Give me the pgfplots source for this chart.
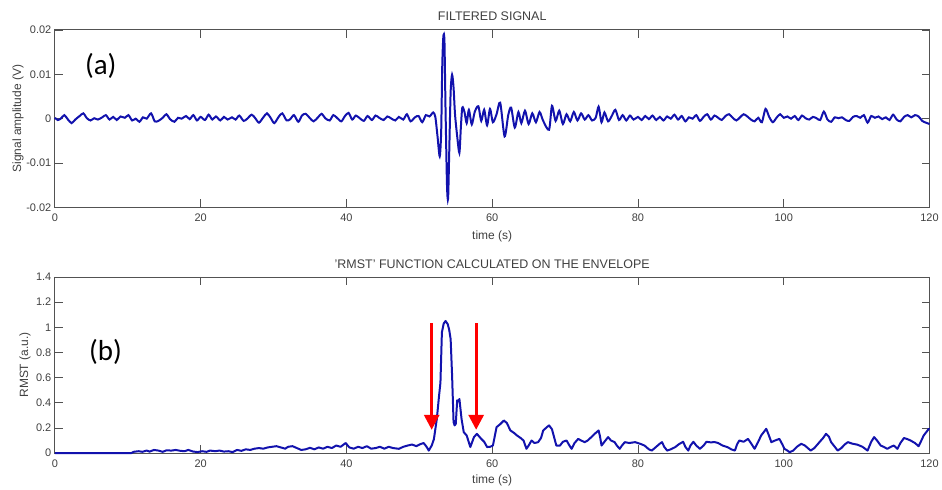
\documentclass[border=0pt]{standalone}
\usepackage{fontspec}
\setmainfont{Liberation Sans}
\newfontfamily\calib{Carlito}
\usepackage{pgfplots}
\pgfplotsset{compat=1.18}
\usetikzlibrary{arrows.meta}
\definecolor{mblue}{rgb}{0.07,0.07,0.68}
\definecolor{axgray}{gray}{0.32}
\definecolor{txgray}{gray}{0.25}

\pgfplotsset{
  mstyle/.style={
    scale only axis, width=877pt,
    xmin=0, xmax=120,
    scaled ticks=false,
    axis line style={axgray, line width=0.9pt},
    tick style={axgray, line width=0.8pt},
    tick align=inside, major tick length=8pt,
    xtick={0,20,40,60,80,100,120},
    xticklabels={0,20,40,60,80,100,120},
    tick label style={font=\fontsize{11}{13}\selectfont, text=txgray},
    xticklabel style={yshift=-3pt},
    label style={font=\fontsize{12}{14}\selectfont, text=txgray},
    title style={font=\fontsize{12.5}{14}\selectfont, text=txgray},
    clip=false,
  }
}

\begin{document}
\begin{tikzpicture}
\path (-55pt,-33.7pt) rectangle (887pt,454.3pt);

% ---------------- top panel ----------------
\begin{axis}[mstyle, at={(0pt,246.3pt)}, anchor=south west,
  height=178pt, ymin=-0.02, ymax=0.02,
  ytick={-0.02,-0.01,0,0.01,0.02},
  yticklabels={-0.02,-0.01,0,0.01,0.02},
  title={FILTERED SIGNAL},
  title style={at={(axis description cs:0.5,1.075)}, anchor=center, yshift=-6pt},
  xlabel={time (s)},
  xlabel style={at={(axis description cs:0.5,-0.129)}, anchor=center, yshift=-6pt},
  ylabel={Signal amplitude (V)},
  ylabel style={at={(axis description cs:-0.0422,0.5)}, anchor=center},
]
\addplot[mblue, line width=2pt, smooth, tension=0.45] coordinates {
(0,0.0002)(0.4,-0.0003)(0.8,0.0000)(1.3,0.0008)(1.8,-0.0002)(2.3,-0.0010)(2.8,-0.0002)(3.4,0.0006)(3.9,0.0012)(4.4,0.0001)
(4.9,-0.0004)(5.4,0.0001)(5.9,-0.0002)(6.5,0.0003)(7.0,0.0008)(7.5,-0.0002)(8.0,0.0004)(8.5,-0.0003)(9.0,0.0005)(9.6,0.0002)
(10.1,0.0008)(10.6,-0.0004)(11.1,0.0000)(11.6,-0.0007)(12.1,0.0003)(12.6,0.0000)(13.2,0.0012)(13.7,-0.0006)(14.2,-0.0005)(14.8,0.0002)
(15.3,0.0010)(15.8,-0.0001)(16.4,-0.0007)(16.9,0.0002)(17.4,0.0000)(18.0,0.0006)(18.5,-0.0001)(19.0,0.0008)(19.5,-0.0004)(20.0,0.0004)
(20.6,-0.0003)(21.1,0.0009)(21.6,-0.0002)(22.1,0.0005)(22.7,-0.0004)(23.2,0.0004)(23.7,-0.0002)(24.3,0.0003)(24.8,-0.0002)(25.3,0.0007)
(25.9,-0.0005)(26.4,0.0000)(27.0,0.0009)(27.5,0.0001)(28.0,-0.0009)(28.6,0.0003)(29.1,0.0012)(29.6,0.0002)(30.1,-0.0010)(30.7,0.0004)
(31.2,0.0012)(31.8,-0.0004)(32.3,-0.0001)(32.8,0.0008)(33.4,-0.0007)(33.9,0.0007)(34.4,0.0011)(35.0,0.0001)(35.5,-0.0006)(36.1,0.0003)
(36.6,0.0011)(37.1,0.0001)(37.7,-0.0004)(38.2,0.0008)(38.7,0.0002)(39.3,-0.0006)(39.8,0.0006)(40.3,0.0013)(40.8,-0.0002)(41.3,0.0007)
(41.9,0.0000)(42.4,-0.0005)(42.9,0.0006)(43.5,-0.0003)(44.0,0.0007)(44.5,0.0002)(45.1,-0.0003)(45.6,0.0005)(46.1,0.0001)(46.7,-0.0004)
(47.2,0.0004)(47.8,-0.0002)(48.3,0.0010)(48.8,-0.0006)(49.4,0.0003)(49.9,0.0006)(50.4,-0.0008)(50.9,0.0008)(51.4,0.0005)(51.9,0.0014)
(52.2,0.0004)(52.5,-0.0040)(52.8,-0.0085)(53.0,-0.0030)(53.15,0.0120)(53.3,0.0185)(53.45,0.0175)(53.6,0.0020)(53.8,-0.0150)(53.95,-0.0180)
(54.1,-0.0080)(54.3,0.0060)(54.5,0.0099)(54.7,0.0070)(54.9,0.0010)(55.2,-0.0040)(55.5,-0.0077)(55.7,-0.0020)(55.9,0.0025)(56.2,0.0015)
(56.5,-0.0010)(56.8,0.0020)(57.2,-0.0013)(57.6,0.0015)(58.1,0.0028)(58.5,-0.0005)(58.9,0.0020)(59.3,-0.0015)(59.7,0.0022)(60.1,-0.0008)
(60.6,0.0010)(61.1,0.0036)(61.7,-0.0040)(62.2,0.0008)(62.6,0.0025)(63.1,-0.0020)(63.6,0.0015)(64.0,-0.0010)(64.5,0.0018)(65.0,-0.0012)
(65.5,0.0012)(66.0,-0.0008)(66.5,0.0015)(67.0,-0.0005)(67.8,-0.0025)(68.2,0.0029)(68.7,-0.0005)(69.2,0.0018)(69.7,-0.0012)(70.2,0.0010)
(70.7,-0.0006)(71.2,0.0015)(71.7,-0.0004)(72.2,0.0012)(72.7,-0.0002)(73.2,0.0008)(73.7,-0.0004)(74.2,0.0002)(74.6,0.0027)(75.0,-0.0008)
(75.4,0.0014)(75.9,-0.0006)(76.4,0.0006)(76.9,0.0020)(77.4,-0.0003)(77.9,0.0008)(78.4,-0.0004)(78.9,0.0007)(79.4,-0.0002)(80.0,0.0004)
(80.5,-0.0003)(81.0,0.0006)(81.5,-0.0001)(82.0,0.0007)(82.5,-0.0003)(83.0,0.0004)(83.5,-0.0004)(84.0,0.0005)(84.5,0.0000)(85.0,0.0009)
(85.5,-0.0002)(86.0,0.0006)(86.5,-0.0006)(87.0,0.0003)(87.5,0.0000)(88.0,0.0008)(88.5,-0.0005)(89.0,0.0004)(89.5,0.0010)(90.0,-0.0002)
(90.5,0.0007)(91.0,0.0002)(91.5,-0.0003)(92.0,0.0006)(92.5,0.0010)(93.0,0.0002)(93.5,-0.0004)(94.0,0.0003)(94.5,0.0010)(95.0,0.0005)
(95.5,-0.0002)(96.0,-0.0006)(96.5,0.0002)(97.0,-0.0008)(97.5,0.0022)(98.0,0.0004)(98.5,-0.0008)(99.0,0.0002)(99.5,0.0010)(100.0,0.0002)
(100.5,0.0005)(101.0,0.0000)(101.5,0.0006)(102.0,-0.0003)(102.5,0.0007)(103.0,0.0001)(103.5,-0.0002)(104.0,0.0004)(104.5,0.0001)(105.0,-0.0003)
(105.5,0.0016)(106.0,-0.0002)(106.5,-0.0007)(107.0,0.0003)(107.5,0.0001)(108.0,0.0003)(108.5,-0.0003)(109.0,-0.0005)(109.5,0.0004)(110.0,0.0006)
(110.5,0.0002)(111.0,0.0008)(111.5,-0.0009)(112.0,0.0006)(112.5,0.0002)(113.0,0.0005)(113.5,-0.0001)(114.0,0.0003)(114.5,-0.0003)(115.0,0.0009)
(115.5,-0.0002)(116.0,-0.0006)(116.5,0.0004)(117.0,0.0008)(117.5,0.0003)(118.0,0.0008)(118.5,0.0005)(119.0,-0.0005)(119.5,-0.0009)(120.0,-0.0012)
};
\node[font=\calib\fontsize{29}{32}\selectfont, text=black] at (rel axis cs:0.0525,0.795) {(a)};
\end{axis}

% ---------------- bottom panel ----------------
\begin{axis}[mstyle, at={(0pt,0pt)}, anchor=south west,
  height=176.6pt, ymin=0, ymax=1.4,
  ytick={0,0.2,0.4,0.6,0.8,1,1.2,1.4},
  yticklabels={0,0.2,0.4,0.6,0.8,1,1.2,1.4},
  title={'RMST' FUNCTION CALCULATED ON THE ENVELOPE},
  title style={at={(axis description cs:0.5,1.072)}, anchor=center, yshift=-6pt},
  xlabel={time (s)},
  xlabel style={at={(axis description cs:0.5,-0.14)}, anchor=center, yshift=-3pt},
  ylabel={RMST (a.u.)},
  ylabel style={at={(axis description cs:-0.0342,0.5)}, anchor=center},
]
\addplot[mblue, line width=2pt, line join=round] coordinates {
(0,0)(10.5,0)(10.8,0.01)(11.5,0.015)(12,0.01)(12.6,0.02)(13,0.012)(13.6,0.025)(14.2,0.02)(14.8,0.01)
(15.3,0.022)(16,0.02)(16.6,0.025)(17.2,0.018)(17.8,0.015)(18.3,0.025)(19,0.012)(19.6,0.008)(20.2,0.015)(20.8,0.01)
(21.3,0.02)(22,0.015)(22.6,0.02)(23.2,0.012)(23.8,0.015)(24.4,0.008)(25.0,0.025)(25.6,0.018)(26.2,0.03)(26.8,0.025)
(27.4,0.035)(28,0.04)(28.6,0.035)(29.2,0.045)(29.8,0.05)(30.4,0.055)(31.0,0.045)(31.6,0.035)(32.0,0.05)(32.6,0.055)
(33.2,0.04)(33.8,0.025)(34.4,0.03)(35.0,0.042)(35.6,0.03)(36.2,0.045)(36.8,0.035)(37.4,0.05)(38.0,0.04)(38.6,0.06)
(39.2,0.05)(39.9,0.08)(40.4,0.045)(41.0,0.035)(41.6,0.05)(42.2,0.04)(42.8,0.055)(43.4,0.035)(44.0,0.04)(44.6,0.05)
(45.2,0.035)(45.8,0.05)(46.4,0.04)(47.2,0.034)(47.8,0.05)(48.4,0.06)(49.0,0.068)(49.6,0.055)(50.1,0.07)(50.6,0.08)
(51.0,0.05)(51.3,0.02)(51.7,0.06)(52.0,0.11)(52.4,0.27)(52.7,0.45)(52.9,0.56)(53.1,0.96)(53.35,1.03)(53.6,1.05)
(53.9,1.025)(54.1,0.98)(54.3,0.906)(54.5,0.615)(54.7,0.246)(54.85,0.22)(55.0,0.232)(55.2,0.42)(55.35,0.41)(55.5,0.43)
(55.8,0.27)(56.1,0.166)(56.5,0.14)(57.0,0.048)(57.5,0.127)(57.9,0.153)(58.5,0.113)(58.9,0.09)(59.3,0.048)(59.7,0.05)
(60.1,0.06)(60.6,0.206)(61.1,0.23)(61.6,0.259)(62.0,0.24)(62.5,0.18)(63.0,0.16)(63.4,0.14)(63.9,0.12)(64.3,0.10)
(64.7,0.034)(65.0,0.06)(65.4,0.10)(65.8,0.08)(66.3,0.087)(66.7,0.12)(67.0,0.18)(67.5,0.206)(67.8,0.22)(68.2,0.19)
(68.8,0.06)(69.3,0.06)(69.7,0.09)(70.2,0.10)(70.6,0.06)(70.9,0.034)(71.3,0.08)(71.8,0.113)(72.2,0.10)(72.7,0.087)
(73.1,0.1)(73.6,0.127)(74.0,0.15)(74.6,0.18)(74.8,0.13)(75.0,0.06)(75.4,0.09)(75.9,0.127)(76.3,0.10)(76.8,0.087)
(77.1,0.06)(77.5,0.034)(77.8,0.06)(78.2,0.087)(78.8,0.08)(79.6,0.087)(80.3,0.074)(80.9,0.06)(81.5,0.03)(81.9,0.02)
(82.5,0.05)(83.0,0.075)(83.3,0.087)(83.6,0.05)(84.0,0.02)(84.5,0.03)(85.1,0.047)(85.6,0.07)(86.2,0.09)(86.5,0.05)
(86.9,0.02)(87.2,0.06)(87.6,0.09)(88.0,0.06)(88.5,0.034)(89.0,0.06)(89.4,0.09)(90.0,0.085)(90.5,0.088)(91.0,0.08)
(91.6,0.06)(92.3,0.047)(92.8,0.03)(93.3,0.02)(93.6,0.07)(93.9,0.1)(94.5,0.09)(95.1,0.113)(95.6,0.07)(96.0,0.034)
(96.5,0.09)(96.9,0.14)(97.3,0.17)(97.6,0.193)(97.9,0.15)(98.3,0.087)(98.8,0.1)(99.4,0.113)(99.8,0.07)(100.1,0.034)
(100.5,0.02)(100.8,0.007)(101.3,0.02)(101.8,0.05)(102.4,0.074)(102.9,0.06)(103.3,0.04)(103.7,0.02)(104.2,0.04)(104.9,0.087)
(105.4,0.12)(105.8,0.153)(106.2,0.13)(106.5,0.087)(107.0,0.05)(107.4,0.02)(107.9,0.04)(108.4,0.07)(108.8,0.087)(109.4,0.075)
(110.1,0.067)(110.8,0.05)(111.5,0.02)(112.0,0.09)(112.4,0.127)(112.8,0.1)(113.3,0.06)(113.7,0.05)(114.2,0.034)(114.7,0.05)
(115.1,0.06)(115.6,0.034)(116.0,0.08)(116.5,0.12)(117.0,0.11)(117.4,0.1)(118.0,0.08)(118.5,0.055)(118.8,0.09)(119.2,0.14)
(119.6,0.17)(119.9,0.193)(120,0.19)
};
\draw[red, line width=3pt, -{Triangle[width=15pt,length=15pt]}] (axis cs:51.7,1.033) -- (axis cs:51.7,0.185);
\draw[red, line width=3pt, -{Triangle[width=15pt,length=15pt]}] (axis cs:57.8,1.033) -- (axis cs:57.8,0.185);
\node[font=\calib\fontsize{29}{32}\selectfont, text=black] at (rel axis cs:0.058,0.576) {(b)};
\end{axis}
\end{tikzpicture}
\end{document}
